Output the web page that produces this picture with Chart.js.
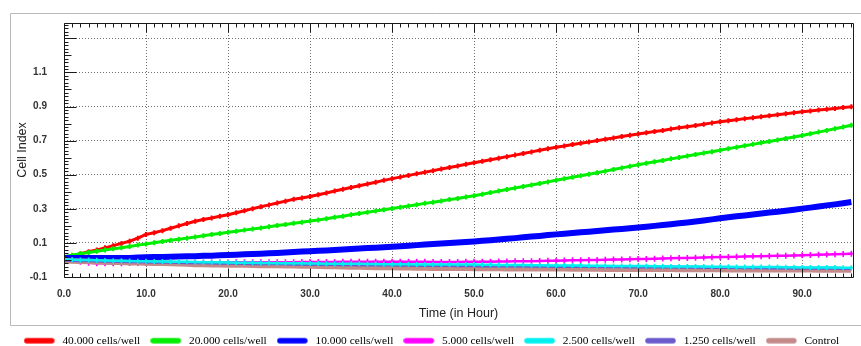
<!DOCTYPE html>
<html>
<head>
<meta charset="utf-8">
<script src="https://cdn.jsdelivr.net/npm/chart.js@4"></script>
<style>
  html, body { margin: 0; padding: 0; background: #fff; }
  #wrap { width: 861px; height: 346px; }
</style>
</head>
<body>
<div id="wrap"><canvas id="c" width="861" height="346"></canvas></div>
<script>
// Time axis in hours, one reading per hour
const hours = Array.from({ length: 97 }, (_, i) => i);

const seriesLabels = ['40.000 cells/well', '20.000 cells/well', '10.000 cells/well',
  '5.000 cells/well', '2.500 cells/well', '1.250 cells/well', 'Control'];

// Cell Index readings, t = 0 .. 96 h
const cells40000 = [0.015,0.025,0.036,0.048,0.059,0.071,0.084,0.097,0.110,0.128,0.150,
  0.160,0.172,0.186,0.200,0.214,0.227,0.237,0.246,0.256,0.265,
  0.277,0.289,0.301,0.312,0.323,0.334,0.345,0.356,0.364,0.372,
  0.382,0.393,0.404,0.415,0.425,0.435,0.446,0.456,0.467,0.477,
  0.486,0.496,0.505,0.514,0.524,0.533,0.542,0.551,0.561,0.570,
  0.579,0.588,0.597,0.606,0.615,0.624,0.634,0.643,0.652,0.661,
  0.669,0.677,0.685,0.692,0.700,0.708,0.716,0.724,0.731,0.739,
  0.746,0.753,0.760,0.768,0.775,0.782,0.789,0.796,0.804,0.811,
  0.817,0.823,0.829,0.834,0.840,0.846,0.852,0.858,0.863,0.869,
  0.874,0.879,0.884,0.889,0.894,0.898];

const cells20000 = [0.020,0.028,0.036,0.044,0.051,0.058,0.065,0.072,0.079,0.087,0.094,
  0.101,0.108,0.115,0.121,0.128,0.135,0.142,0.149,0.155,0.162,
  0.169,0.175,0.182,0.188,0.195,0.202,0.208,0.215,0.221,0.228,
  0.235,0.242,0.250,0.257,0.265,0.272,0.280,0.287,0.295,0.302,
  0.309,0.317,0.324,0.332,0.339,0.346,0.354,0.361,0.369,0.377,
  0.386,0.395,0.404,0.413,0.422,0.431,0.440,0.449,0.458,0.467,
  0.476,0.485,0.494,0.503,0.512,0.521,0.531,0.540,0.549,0.558,
  0.567,0.576,0.584,0.593,0.601,0.610,0.618,0.627,0.635,0.644,
  0.653,0.661,0.670,0.678,0.687,0.695,0.704,0.712,0.721,0.730,
  0.740,0.750,0.760,0.770,0.780,0.790];

const cells10000 = [0.012,0.012,0.012,0.012,0.011,0.011,0.011,0.012,0.012,0.015,0.016,
  0.017,0.018,0.019,0.020,0.021,0.022,0.024,0.025,0.027,0.029,
  0.031,0.033,0.035,0.037,0.039,0.041,0.044,0.046,0.049,0.051,
  0.054,0.056,0.059,0.061,0.064,0.067,0.070,0.072,0.075,0.078,
  0.081,0.084,0.087,0.090,0.093,0.096,0.099,0.102,0.105,0.108,
  0.112,0.116,0.120,0.124,0.128,0.133,0.137,0.141,0.146,0.150,
  0.154,0.158,0.162,0.166,0.170,0.174,0.178,0.182,0.186,0.190,
  0.195,0.200,0.205,0.210,0.215,0.220,0.226,0.232,0.238,0.245,
  0.250,0.256,0.261,0.267,0.272,0.278,0.283,0.289,0.295,0.301,
  0.307,0.313,0.320,0.326,0.333,0.340];

const cells5000 = [0.005,-0.002,-0.010,-0.016,-0.020,-0.020,-0.019,-0.019,-0.018,-0.018,-0.018,
  -0.017,-0.017,-0.017,-0.016,-0.016,-0.016,-0.015,-0.015,-0.015,-0.015,
  -0.014,-0.014,-0.014,-0.014,-0.013,-0.013,-0.013,-0.013,-0.012,-0.012,
  -0.012,-0.012,-0.012,-0.011,-0.011,-0.011,-0.011,-0.010,-0.010,-0.010,
  -0.010,-0.011,-0.011,-0.011,-0.012,-0.012,-0.012,-0.012,-0.011,-0.011,
  -0.010,-0.010,-0.009,-0.009,-0.008,-0.007,-0.007,-0.006,-0.005,-0.004,
  -0.003,-0.002,-0.002,-0.001,0.000,0.001,0.002,0.003,0.004,0.005,
  0.006,0.007,0.009,0.010,0.011,0.012,0.013,0.014,0.016,0.017,
  0.018,0.019,0.020,0.021,0.022,0.023,0.024,0.025,0.026,0.027,
  0.029,0.031,0.032,0.034,0.035,0.037];

const cells2500 = [0.002,0.001,0.000,-0.001,-0.002,-0.003,-0.004,-0.005,-0.006,-0.007,-0.008,
  -0.009,-0.009,-0.010,-0.011,-0.011,-0.012,-0.013,-0.013,-0.014,-0.015,
  -0.016,-0.016,-0.017,-0.018,-0.018,-0.019,-0.019,-0.020,-0.020,-0.021,
  -0.021,-0.022,-0.022,-0.023,-0.023,-0.023,-0.024,-0.024,-0.025,-0.025,
  -0.025,-0.025,-0.026,-0.026,-0.026,-0.026,-0.026,-0.027,-0.027,-0.027,
  -0.028,-0.028,-0.029,-0.029,-0.030,-0.030,-0.031,-0.031,-0.032,-0.032,
  -0.032,-0.033,-0.033,-0.034,-0.034,-0.034,-0.035,-0.035,-0.036,-0.036,
  -0.036,-0.037,-0.037,-0.038,-0.038,-0.038,-0.039,-0.039,-0.040,-0.040,
  -0.040,-0.041,-0.041,-0.041,-0.042,-0.042,-0.042,-0.043,-0.043,-0.044,
  -0.044,-0.044,-0.045,-0.045,-0.046,-0.046];

const cells1250 = [-0.002,-0.003,-0.004,-0.005,-0.006,-0.007,-0.008,-0.009,-0.010,-0.011,-0.012,
  -0.013,-0.014,-0.014,-0.015,-0.016,-0.017,-0.017,-0.018,-0.019,-0.020,
  -0.020,-0.021,-0.022,-0.022,-0.023,-0.023,-0.024,-0.025,-0.025,-0.026,
  -0.026,-0.027,-0.027,-0.028,-0.028,-0.029,-0.029,-0.029,-0.030,-0.030,
  -0.031,-0.031,-0.032,-0.032,-0.032,-0.033,-0.033,-0.034,-0.034,-0.034,
  -0.035,-0.035,-0.035,-0.036,-0.036,-0.036,-0.037,-0.037,-0.037,-0.038,
  -0.038,-0.038,-0.039,-0.039,-0.039,-0.040,-0.040,-0.040,-0.041,-0.041,
  -0.041,-0.042,-0.042,-0.042,-0.043,-0.043,-0.043,-0.044,-0.044,-0.045,
  -0.045,-0.045,-0.046,-0.046,-0.046,-0.047,-0.047,-0.047,-0.048,-0.048,
  -0.048,-0.049,-0.049,-0.049,-0.050,-0.050];

const control = [-0.005,-0.006,-0.008,-0.009,-0.011,-0.012,-0.013,-0.014,-0.016,-0.017,-0.018,
  -0.019,-0.020,-0.021,-0.023,-0.024,-0.026,-0.027,-0.028,-0.028,-0.029,
  -0.030,-0.030,-0.031,-0.032,-0.032,-0.033,-0.034,-0.034,-0.035,-0.036,
  -0.037,-0.038,-0.039,-0.040,-0.041,-0.042,-0.043,-0.044,-0.044,-0.045,
  -0.046,-0.046,-0.047,-0.047,-0.048,-0.048,-0.049,-0.049,-0.049,-0.050,
  -0.050,-0.050,-0.050,-0.051,-0.051,-0.051,-0.051,-0.052,-0.052,-0.052,
  -0.052,-0.053,-0.053,-0.053,-0.053,-0.054,-0.054,-0.054,-0.054,-0.055,
  -0.055,-0.055,-0.055,-0.055,-0.056,-0.056,-0.056,-0.056,-0.056,-0.056,
  -0.057,-0.057,-0.057,-0.057,-0.057,-0.058,-0.058,-0.058,-0.058,-0.058,
  -0.058,-0.059,-0.059,-0.059,-0.059,-0.059];

const xTickValues = [0, 10, 20, 30, 40, 50, 60, 70, 80, 90];
const xTickLabels = ['0.0', '10.0', '20.0', '30.0', '40.0', '50.0', '60.0', '70.0', '80.0', '90.0'];
const yTickValues = [-0.1, 0.1, 0.3, 0.5, 0.7, 0.9, 1.1, 1.3];
const yTickLabels = ['-0.1', '0.1', '0.3', '0.5', '0.7', '0.9', '1.1', ''];

const X_MIN = 0, X_MAX = 96.2, Y_MIN = -0.1, Y_MAX = 1.39;

// line + marker styles per series; layer: higher = painted earlier (underneath)
const styles = [
  { color: '#ff0000', width: 3, point: 'cross', radius: 2.5, pw: 2, layer: 7 },
  { color: '#00ee00', width: 3, point: 'cross', radius: 2.5, pw: 2, layer: 6 },
  { color: '#0000ff', width: 6, point: false, radius: 0, pw: 0, layer: 5 },
  { color: '#ff00ff', width: 2.5, point: 'cross', radius: 3, pw: 1.6, layer: 4 },
  { color: '#00f0f0', width: 2.5, point: 'cross', radius: 2.5, pw: 1.6, layer: 1 },
  { color: '#6a5acd', width: 3, point: false, radius: 0, pw: 0, layer: 2 },
  { color: '#c48a8a', width: 5.5, point: false, radius: 0, pw: 0, layer: 3 }
];
const seriesValues = [cells40000, cells20000, cells10000, cells5000, cells2500, cells1250, control];

// rounded line swatch used as the legend symbol
function swatch(color) {
  const c = document.createElement('canvas');
  c.width = 33; c.height = 8;
  const g = c.getContext('2d');
  g.strokeStyle = color; g.lineWidth = 5.5; g.lineCap = 'round';
  g.beginPath(); g.moveTo(3, 4); g.lineTo(28, 4); g.stroke();
  return c;
}

const datasets = seriesValues.map((vals, i) => ({
  label: seriesLabels[i],
  data: vals.map((v, k) => ({ x: hours[k], y: v })),
  borderColor: styles[i].color,
  backgroundColor: styles[i].color,
  borderWidth: styles[i].width,
  pointStyle: styles[i].point,
  pointRadius: styles[i].radius,
  pointBorderWidth: styles[i].pw,
  pointHoverRadius: 0,
  tension: 0,
  fill: false,
  order: styles[i].layer,
  legendSymbol: swatch(styles[i].color)
}));

// plot frame and the small inward tick marks of the axes
const frameTicks = {
  id: 'frameTicks',
  beforeDraw(chart) {
    const { ctx, legend } = chart;
    const b = Math.round(legend.top) + 0.5;
    ctx.save();
    ctx.strokeStyle = '#b9b9b9';
    ctx.lineWidth = 1;
    ctx.beginPath();
    ctx.moveTo(chart.width + 2, 13.5);
    ctx.lineTo(10.5, 13.5);
    ctx.lineTo(10.5, b);
    ctx.lineTo(chart.width + 2, b);
    ctx.stroke();
    ctx.restore();
  },
  afterDatasetsDraw(chart) {
    const { ctx, chartArea: a, scales: { x, y } } = chart;
    const L = Math.round(a.left) + 0.5, T = Math.round(a.top) + 0.5;
    const R = Math.round(a.right) + 0.5, B = Math.round(a.bottom) + 0.5;
    ctx.save();
    ctx.strokeStyle = '#1a1a1a';
    ctx.lineWidth = 1;
    ctx.beginPath();
    ctx.rect(L, T, R - L, B - T);
    for (let h = 0; h <= Math.floor(x.max); h++) {
      const px = Math.round(x.getPixelForValue(h)) + 0.5;
      const len = h % 10 === 0 ? 9 : 4;
      ctx.moveTo(px, B); ctx.lineTo(px, B - len);
      ctx.moveTo(px, T); ctx.lineTo(px, T + len);
    }
    for (let k = 0; ; k++) {
      const v = Y_MIN + k * 0.02;
      if (v > y.max + 1e-9) break;
      const py = Math.round(y.getPixelForValue(v)) + 0.5;
      const len = k % 10 === 0 ? 12 : (k % 5 === 0 ? 7 : 4);
      ctx.moveTo(L, py); ctx.lineTo(L + len, py);
    }
    ctx.stroke();
    ctx.restore();
  }
};

const tickFont = { family: 'Liberation Sans', size: 10, weight: 'bold' };
const titleFont = { family: 'Liberation Sans', size: 12.5 };

new Chart(document.getElementById('c'), {
  type: 'line',
  data: { datasets },
  plugins: [frameTicks],
  options: {
    responsive: false,
    animation: false,
    devicePixelRatio: 1,
    layout: { padding: { left: 10, right: 8, top: 20, bottom: 0 } },
    plugins: {
      tooltip: { enabled: false },
      legend: {
        position: 'bottom',
        maxHeight: 21,
        labels: {
          usePointStyle: true,
          pointStyleWidth: 33,
          boxHeight: 12,
          padding: 10,
          color: '#000',
          font: { family: 'Liberation Serif', size: 11.4 },
          generateLabels: chart => chart.data.datasets.map((ds, i) => ({
            text: ds.label,
            fillStyle: ds.borderColor,
            strokeStyle: ds.borderColor,
            lineWidth: 0,
            pointStyle: ds.legendSymbol,
            hidden: false,
            datasetIndex: i
          }))
        }
      }
    },
    scales: {
      x: {
        type: 'linear',
        min: X_MIN,
        max: X_MAX,
        afterBuildTicks: s => { s.ticks = xTickValues.map(v => ({ value: v })); },
        afterFit: s => { s.height = 48; },
        ticks: {
          autoSkip: false,
          maxRotation: 0,
          padding: 11,
          color: '#333',
          font: tickFont,
          callback: (v, i) => xTickLabels[i]
        },
        grid: {
          drawTicks: false,
          lineWidth: 1,
          color: c => (c.tick && c.tick.value === X_MIN) ? 'rgba(0,0,0,0)' : '#707070'
        },
        border: { display: false, dash: [1, 2] },
        title: { display: true, text: 'Time (in Hour)', color: '#222', font: titleFont, padding: { top: 0, bottom: 4 } }
      },
      y: {
        type: 'linear',
        min: Y_MIN,
        max: Y_MAX,
        afterBuildTicks: s => { s.ticks = yTickValues.map(v => ({ value: v })); },
        afterFit: s => { s.width = 54; },
        ticks: {
          autoSkip: false,
          padding: 17,
          color: '#333',
          font: tickFont,
          callback: (v, i) => yTickLabels[i]
        },
        grid: {
          drawTicks: false,
          lineWidth: 1,
          color: c => (c.tick && c.tick.value === Y_MIN) ? 'rgba(0,0,0,0)' : '#707070'
        },
        border: { display: false, dash: [1, 2] },
        title: { display: true, text: 'Cell Index', color: '#222', font: titleFont, padding: { top: 5, bottom: 0 } }
      }
    }
  }
});
</script>
</body>
</html>
